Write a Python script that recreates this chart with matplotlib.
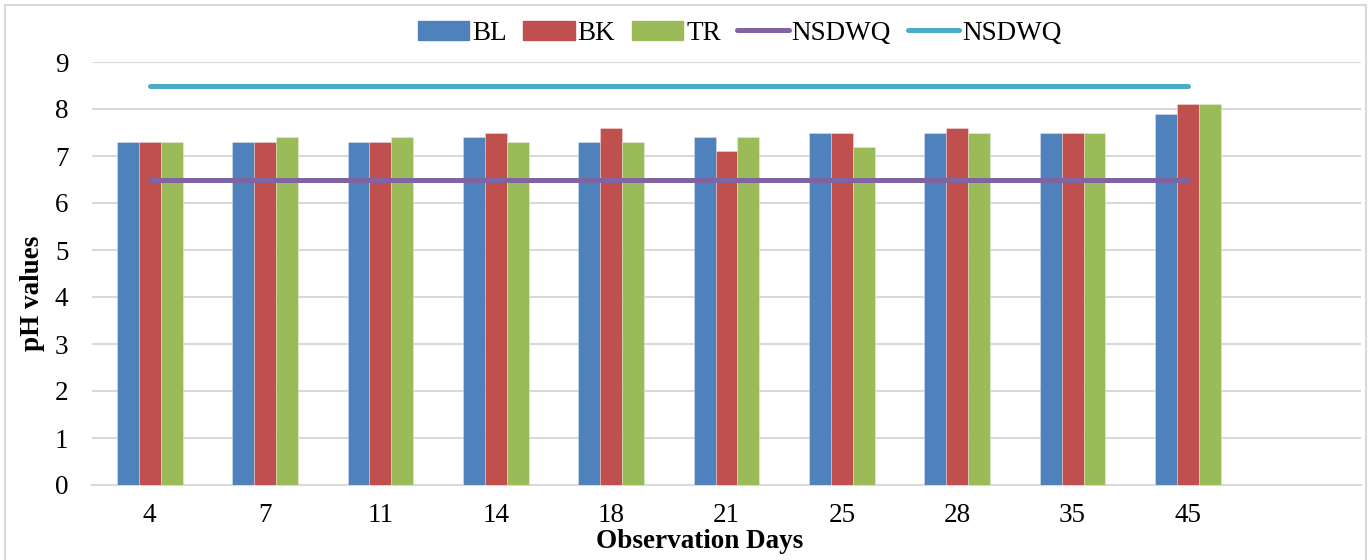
import matplotlib
matplotlib.use("Agg")
import matplotlib.pyplot as plt
import numpy as np
from matplotlib.patches import Rectangle, Patch
from matplotlib.lines import Line2D

days = ["4", "7", "11", "14", "18", "21", "25", "28", "35", "45"]
bl = [7.3, 7.3, 7.3, 7.4, 7.3, 7.4, 7.5, 7.5, 7.5, 7.9]
bk = [7.3, 7.3, 7.3, 7.5, 7.6, 7.1, 7.5, 7.6, 7.5, 8.1]
tr = [7.3, 7.4, 7.4, 7.3, 7.3, 7.4, 7.2, 7.5, 7.5, 8.1]
nsdwq_low = [6.5] * len(days)
nsdwq_high = [8.5] * len(days)
yticks = list(range(0, 10))

plt.rcParams['font.family'] = ['Liberation Serif', 'DejaVu Serif']
FS = 19.5

fig = plt.figure(figsize=(13.72, 5.6), dpi=100)
ax = fig.add_axes([92/1372, 75/560, (1361-92)/1372, (485-62)/560])

n_slots = len(days) + 1
x = np.arange(len(days))
w = 0.19
cols = ["#4F81BD", "#C0504D", "#9BBB59"]
for i, (vals, c) in enumerate(zip([bl, bk, tr], cols)):
    ax.bar(x + (i - 1) * w, vals, width=w, color=c, edgecolor=(1, 1, 1, 0.35), linewidth=0.6, zorder=3)

ax.plot(x, nsdwq_low, color="#8064A2", lw=3.6, solid_capstyle="round", zorder=4)
ax.plot(x, nsdwq_high, color="#4BACC6", lw=3.6, solid_capstyle="round", zorder=4)

ax.set_xlim(-0.5, n_slots - 0.5)
ax.set_ylim(0, 9)
ax.set_yticks(yticks)
ax.set_xticks(list(x) + [len(days)])
ax.set_xticklabels(days + [""])
ax.grid(axis="y", color="#D9D9D9", lw=1.5, zorder=0)
for s in ["top", "right", "left"]:
    ax.spines[s].set_visible(False)
ax.spines["bottom"].set_color("#D9D9D9")
ax.spines["bottom"].set_linewidth(1.5)
ax.tick_params(axis="both", length=0, labelsize=FS, colors="black")
ax.tick_params(axis="x", pad=13)
ax.tick_params(axis="y", pad=17)
ax.set_ylabel("pH values", fontsize=FS, fontweight="bold")
ax.yaxis.set_label_coords(-0.037, 0.452)
ax.set_xlabel("Observation Days", fontsize=FS, fontweight="bold")
ax.xaxis.set_label_coords(0.479, -0.105)

handles = [Patch(color=cols[0]), Patch(color=cols[1]), Patch(color=cols[2]),
           Line2D([], [], color="#8064A2", lw=3.6, solid_capstyle="round"),
           Line2D([], [], color="#4BACC6", lw=3.6, solid_capstyle="round")]
labels = ["BL", "BK", "TR", "NSDWQ", "NSDWQ"]
fig.legend(handles, labels, loc="center", bbox_to_anchor=(0.539, 1 - 33/560), ncol=5,
           frameon=False, fontsize=FS, handlelength=1.9, handletextpad=0.1,
           columnspacing=0.62, handleheight=0.7)

fig.patches.append(Rectangle((5/1372, -0.1), (1366-5)/1372, 1.1 - 5/560,
                             transform=fig.transFigure, fill=False,
                             edgecolor="#D9D9D9", lw=1.5))

fig.savefig("out.png", dpi=100)
